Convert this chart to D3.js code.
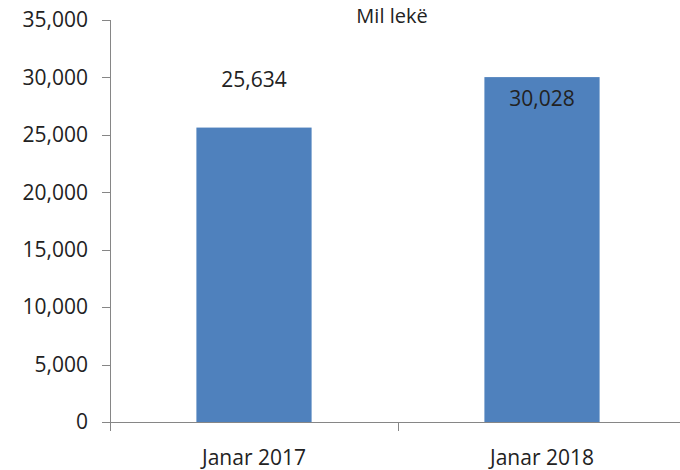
<!DOCTYPE html>
<meta charset="utf-8">
<style>
    body { margin: 0; background: #fff; }
    svg { font-family: "Open Sans", sans-serif; }
    text { fill: #222; }
    .axis .domain, .axis line { stroke: #868686; shape-rendering: crispEdges; }
</style>
<body>
<script src="https://cdn.jsdelivr.net/npm/d3@7"></script>
<script>
    var categories = ["Janar 2017", "Janar 2018"];
    var values = [25634, 30028];
    var yTicks = [0, 5000, 10000, 15000, 20000, 25000, 30000, 35000];
    var title = "Mil lekë";

    var width = 680, height = 470;

    var svg = d3.select("body").append("svg")
        .attr("width", width)
        .attr("height", height);

    var x = d3.scaleBand()
        .domain(categories)
        .range([110, 686])
        .paddingInner(0.6)
        .paddingOuter(0.3);

    var y = d3.scaleLinear()
        .domain([0, 35000])
        .range([422, 20]);

    var fmt = d3.format(",");

    // y axis
    svg.append("g")
        .attr("class", "y axis")
        .attr("transform", "translate(110,0)")
        .call(d3.axisLeft(y).tickValues(yTicks).tickFormat(fmt).tickSizeInner(8).tickSizeOuter(8).tickPadding(14))
        .attr("font-family", null)
        .attr("font-size", null)
        .call(g => g.selectAll("text").style("font-size", "21px").attr("fill", "#222"));

    // bars
    svg.selectAll(".bar")
        .data(values)
        .enter().append("rect")
        .attr("class", "bar")
        .attr("x", (d, i) => x(categories[i]))
        .attr("width", x.bandwidth())
        .attr("y", d => y(d))
        .attr("height", d => y(0) - y(d))
        .attr("fill", "#4f81bd");

    // x axis with category separator ticks
    var xg = svg.append("g").attr("class", "x axis");
    xg.append("line")
        .attr("x1", 110).attr("x2", 686)
        .attr("y1", y(0)).attr("y2", y(0));
    var step = x.step();
    [0, 1].forEach(function(i) {
        var bx = x(categories[i]) - x.paddingOuter() * step;
        xg.append("line")
            .attr("x1", bx).attr("x2", bx)
            .attr("y1", y(0)).attr("y2", y(0) + 9);
    });
    xg.selectAll(".cat")
        .data(categories)
        .enter().append("text")
        .attr("class", "cat")
        .attr("x", d => x(d) + x.bandwidth() / 2)
        .attr("y", 465)
        .attr("text-anchor", "middle")
        .style("font-size", "21px")
        .text(d => d);

    // value labels: first above the bar, second inside near the top
    svg.selectAll(".val")
        .data(values)
        .enter().append("text")
        .attr("class", "val")
        .attr("x", (d, i) => x(categories[i]) + x.bandwidth() / 2)
        .attr("y", (d, i) => i == 0 ? y(d) - 41 : y(d) + 29)
        .attr("text-anchor", "middle")
        .style("font-size", "21px")
        .text(d => fmt(d));

    svg.append("text")
        .attr("x", 392)
        .attr("y", 23)
        .attr("text-anchor", "middle")
        .style("font-size", "20px")
        .text(title);
</script>
</body>
